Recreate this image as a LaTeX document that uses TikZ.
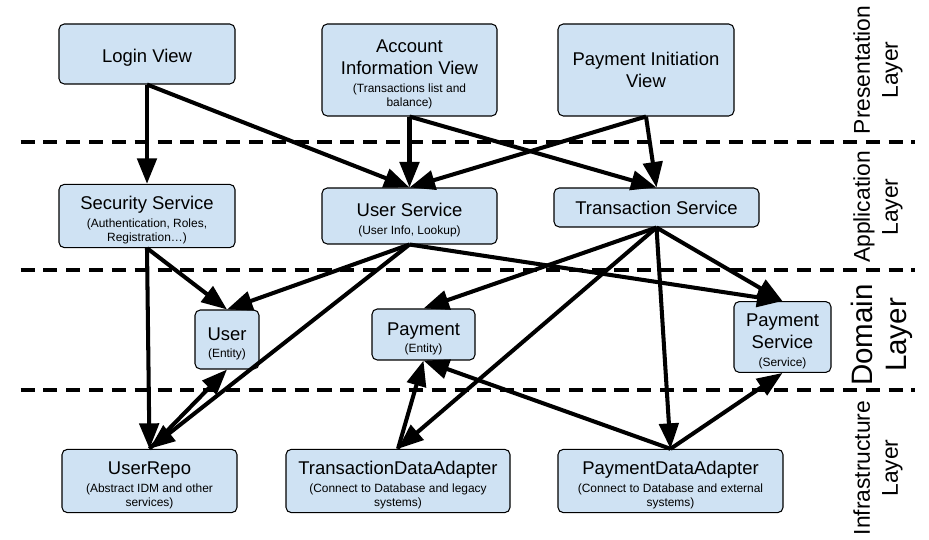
\documentclass[tikz,border=0pt]{standalone}
\usepackage{fontspec}
\setmainfont{Liberation Sans}
\usepackage{tikz}
\usetikzlibrary{arrows.meta}
\usepackage{xcolor}
\definecolor{BoxBlue}{HTML}{CFE2F3}
\definecolor{Ink}{HTML}{000000}
\newcommand{\subtxt}[1]{{\fontsize{6.8}{8.2}\selectfont #1}}
\newcommand{\toppad}{\rule{0pt}{12.2pt}}
\tikzset{
  compbox/.style={draw=Ink, line width=0.6pt, rounded corners=3pt,
    fill=BoxBlue, align=center, inner sep=2pt,
    font=\fontsize{10.5}{12.5}\selectfont},
  deparr/.style={-{Triangle[length=14.5pt,width=11pt]}, line width=2.3pt, color=Ink},
  layersep/.style={dash pattern=on 8pt off 5pt, line width=2.1pt},
  layertag/.style={rotate=90, align=center, font=\fontsize{13}{16}\selectfont},
}

\begin{document}
\begin{tikzpicture}
  \useasboundingbox (0,0) rectangle (18.58,-10.8);

  \foreach \y in {-2.84,-5.40,-7.80}
    \draw[layersep] (0.41,\y) -- (18.30,\y);

  \node[compbox, minimum width=3.52cm, minimum height=1.2cm] (login) at (2.94,-1.08)
    {\toppad Login View};
  \node[compbox, minimum width=3.5cm, minimum height=1.84cm] (acctview) at (8.19,-1.40)
    {\toppad Account\\Information View\\[-2.3pt]\subtxt{(Transactions list and}\\[-4.3pt]\subtxt{balance)}};
  \node[compbox, minimum width=3.52cm, minimum height=1.84cm] (payview) at (12.92,-1.40)
    {Payment Initiation\\View};

  \node[compbox, minimum width=3.52cm, minimum height=1.12cm] (secsvc) at (2.94,-4.32)
    {\toppad Security Service\\[-2.3pt]\subtxt{(Authentication, Roles,}\\[-4.3pt]\subtxt{Registration\ldots)}};
  \node[compbox, minimum width=3.5cm, minimum height=1.12cm] (usersvc) at (8.19,-4.32)
    {\toppad User Service\\[-2.3pt]\subtxt{(User Info, Lookup)}};
  \node[compbox, minimum width=4.1cm, minimum height=0.78cm] (txsvc) at (13.13,-4.15)
    {Transaction Service};

  \node[compbox, minimum width=1.28cm, minimum height=1.18cm] (user) at (4.54,-6.79)
    {\toppad User\\[-2.3pt]\subtxt{(Entity)}};
  \node[compbox, minimum width=2.06cm, minimum height=1.02cm] (payment) at (8.47,-6.69)
    {\toppad Payment\\[-2.3pt]\subtxt{(Entity)}};
  \node[compbox, minimum width=1.94cm, minimum height=1.2cm] (paysvc) at (15.65,-6.74)
    {\toppad Payment\\Service\\[-2.3pt]\subtxt{(Service)}};

  \node[compbox, minimum width=3.5cm, minimum height=1.2cm] (userrepo) at (2.99,-9.62)
    {\toppad UserRepo\\[-2.3pt]\subtxt{(Abstract IDM and other}\\[-4.3pt]\subtxt{services)}};
  \node[compbox, minimum width=4.48cm, minimum height=1.2cm] (txadapter) at (7.96,-9.62)
    {\toppad TransactionDataAdapter\\[-2.3pt]\subtxt{(Connect to Database and legacy}\\[-4.3pt]\subtxt{systems)}};
  \node[compbox, minimum width=4.5cm, minimum height=1.2cm] (payadapter) at (13.41,-9.62)
    {\toppad PaymentDataAdapter\\[-2.3pt]\subtxt{(Connect to Database and external}\\[-4.3pt]\subtxt{systems)}};

  \node[layertag] (presentation) at (17.56,-1.40) {Presentation\\Layer};
  \node[layertag] (application) at (17.56,-4.14) {Application\\Layer};
  \node[layertag, font=\fontsize{16.8}{19.5}\selectfont] (domain) at (17.64,-6.70) {Domain\\Layer};
  \node[layertag] (infrastructure) at (17.56,-9.36) {Infrastructure\\Layer};

  \draw[deparr] (login.south) -- (secsvc.north);
  \draw[deparr] (login.south) -- (usersvc.north);
  \draw[deparr] (acctview.south) -- (usersvc.north);
  \draw[deparr] (acctview.south) -- (txsvc.north);
  \draw[deparr] (payview.south) -- (usersvc.north);
  \draw[deparr] (payview.south) -- (txsvc.north);

  \draw[deparr] (secsvc.south) -- (user.north);
  \draw[deparr] (secsvc.south) -- (userrepo.north);
  \draw[deparr] (usersvc.south) -- (user.north);
  \draw[deparr] (usersvc.south) -- (userrepo.north);
  \draw[deparr] (usersvc.south) -- (paysvc.north);
  \draw[deparr] (txsvc.south) -- (payment.north);
  \draw[deparr] (txsvc.south) -- (txadapter.north);
  \draw[deparr] (txsvc.south) -- (payadapter.north);
  \draw[deparr] (txsvc.south) -- (paysvc.north);

  \draw[deparr] (userrepo.north) -- (user.south);
  \draw[deparr] (txadapter.north) -- (payment.south);
  \draw[deparr] (payadapter.north) -- (payment.south);
  \draw[deparr] (payadapter.north) -- (paysvc.south);
\end{tikzpicture}
\end{document}
